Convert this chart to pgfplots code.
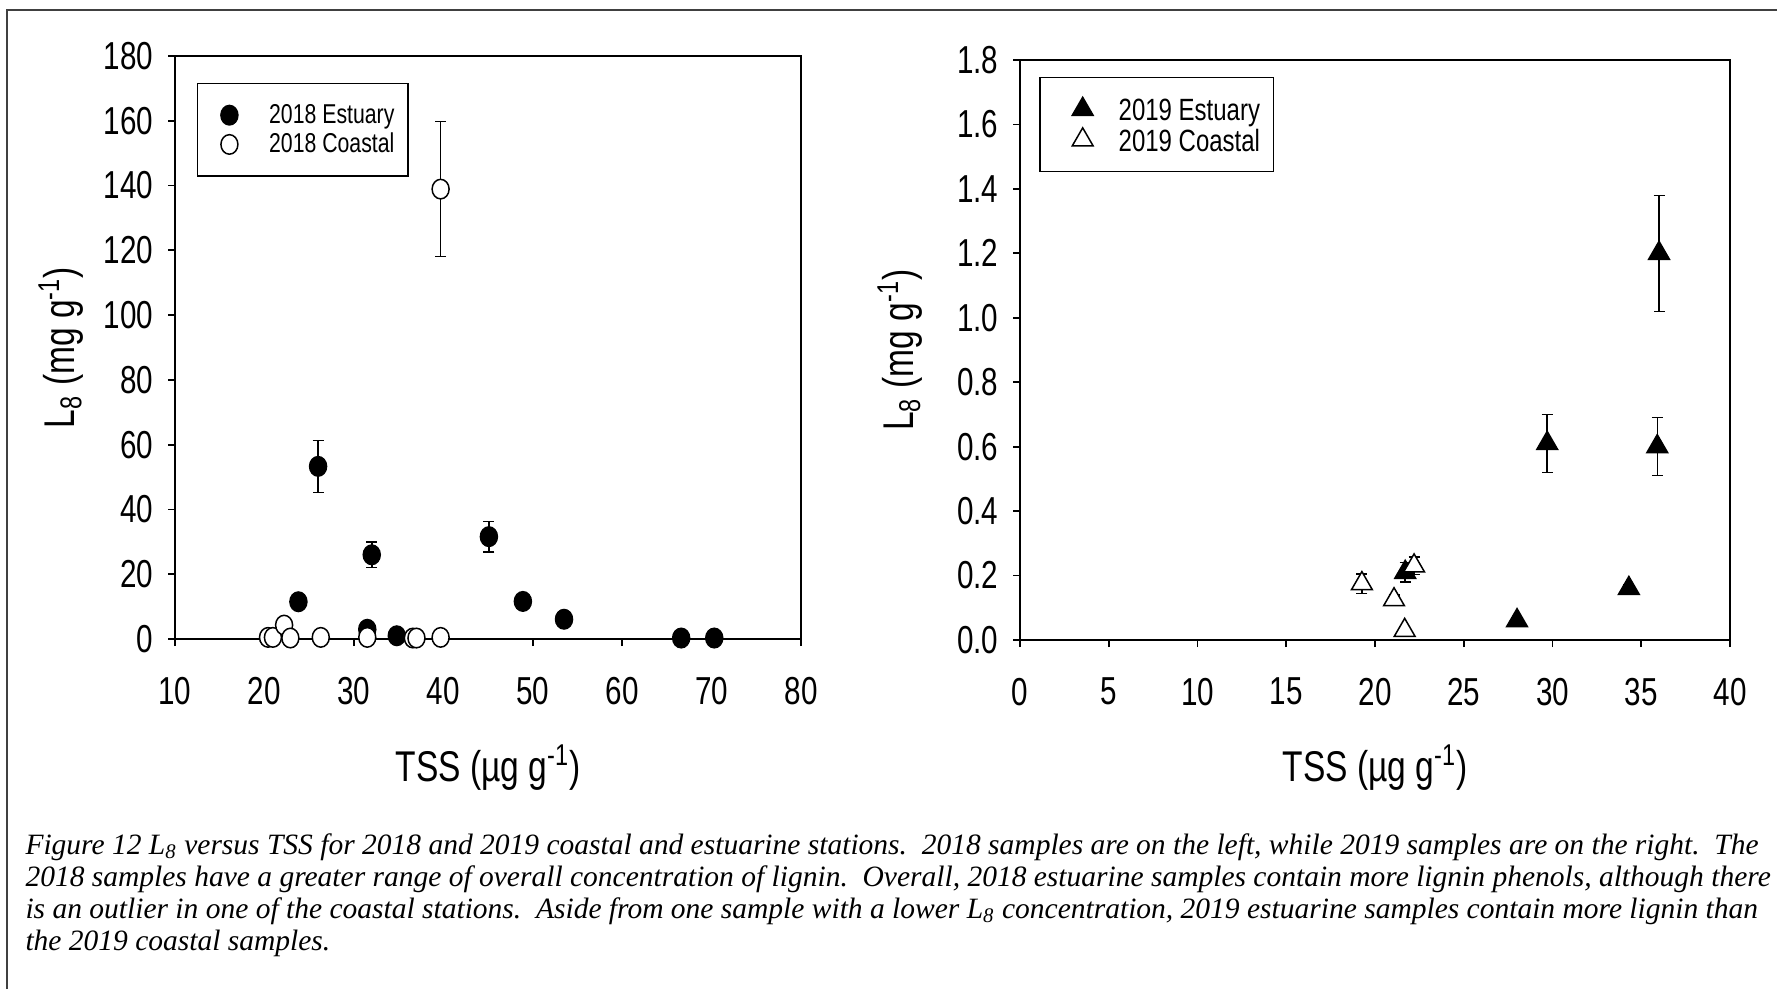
\documentclass[border=0pt]{standalone}
\usepackage{pgfplots}
\pgfplotsset{compat=1.18}
\usepackage{fontspec}
\setmainfont{Liberation Serif}
\newfontfamily\cf{Liberation Sans}[FakeStretch=0.78]
\newfontfamily\cft{Liberation Sans}[FakeStretch=0.76]
\newcommand\tickfont{\cft\fontsize{15.6}{18}\selectfont}
\newcommand\labfont{\cf\fontsize{17.2}{20}\selectfont}
\newcommand\legfont{\cf\fontsize{10.9}{13}\selectfont}
\newcommand\legfontb{\cf\fontsize{12.3}{14}\selectfont}
\newcommand\capfont{\fontsize{11.8}{12.7}\selectfont\itshape}

\pgfplotsset{
  panel/.style={
    scale only axis, clip=false,
    axis line style={line width=0.8pt},
    tick align=outside, tick pos=left,
    major tick length=2.8pt,
    every tick/.style={black, line width=0.7pt},
    tick label style={font=\tickfont},
    xticklabel style={yshift=-8.8pt},
    yticklabel style={xshift=-2.3pt},
    /pgf/number format/assume math mode=true,
    label style={font=\labfont},
    xlabel style={at={(axis description cs:0.5,-0.22)}, anchor=center},
    legend cell align=left,
    legend style={draw=black, line width=0.6pt, anchor=north west,
      inner xsep=5.4pt, row sep=0pt, /tikz/column sep=0pt,
      nodes={inner xsep=0pt}},
    error bars/error bar style={line width=0.6pt, black},
    error bars/error mark options={black, line width=0.6pt, mark size=2.2pt, rotate=90},
  }
}

\begin{document}
\begin{tikzpicture}[x=0.4pt, y=0.4pt]
\path[use as bounding box] (0,0) rectangle (1777,989);
\draw[line width=0.8pt, black!75] (7,0) -- (7,979) -- (1777,979);

% 2018
\begin{axis}[panel,
  at={(70pt,140pt)}, anchor=south west,
  width=250.4pt, height=233.2pt,
  xmin=10, xmax=80, ymin=0, ymax=180,
  xtick={10,20,...,80}, ytick={0,20,...,180},
  xlabel={TSS (µg g\textsuperscript{-1})},
  ylabel={L\textsubscript{8} (mg g\textsuperscript{-1})},
  ylabel style={at={(axis description cs:-0.182,0.5)}, anchor=center},
  legend style={at={(0.035,0.954)}, font=\legfont, inner ysep=6.8pt,
    nodes={inner ysep=0.7pt, text height=8.5pt, text depth=1.8pt}},
  legend image code/.code={\path (0pt,0pt) (22.6pt,0pt); \draw[#1, only marks] plot coordinates {(7pt,0pt)};},
]
\addplot[only marks, mark=*, mark size=3.4pt, mark options={yscale=1.15, fill=black, draw=black, line width=0.6pt},
  error bars/.cd, y dir=both, y explicit]
  coordinates {
  (26.0,53.3) +- (0,8.0)
  (23.8,11.5) +- (0,0)
  (32.0,26.0) +- (0,3.9)
  (31.5,3.0) +- (0,0)
  (34.8,1.0) +- (0,0)
  (45.1,31.6) +- (0,4.7)
  (48.9,11.6) +- (0,0)
  (53.5,6.1) +- (0,0)
  (66.6,0.3) +- (0,0)
  (70.3,0.3) +- (0,0)
  };
\addlegendentry{2018 Estuary}
\addplot[only marks, mark=*, mark size=3.4pt, mark options={yscale=1.15, fill=white, draw=black, line width=0.6pt},
  error bars/.cd, y dir=both, y explicit]
  coordinates {
  (39.7,138.9) +- (0,20.8)
  (20.4,0.5) +- (0,0)
  (20.95,0.5) +- (0,0)
  (22.2,4.3) +- (0,0)
  (22.9,0.3) +- (0,0)
  (26.3,0.5) +- (0,0)
  (31.5,0.5) +- (0,0)
  (36.6,0.3) +- (0,0)
  (37.0,0.3) +- (0,0)
  (39.7,0.5) +- (0,0)
  };
\addlegendentry{2018 Coastal}
\end{axis}

% 2019
\begin{axis}[panel,
  at={(408pt,139.6pt)}, anchor=south west,
  width=284pt, height=232pt,
  xmin=0, xmax=40, ymin=0, ymax=1.8,
  xtick={0,5,...,40}, ytick={0,0.2,...,1.8},
  yticklabel style={/pgf/number format/.cd, fixed, fixed zerofill, precision=1},
  xlabel={TSS (µg g\textsuperscript{-1})},
  ylabel={L\textsubscript{8} (mg g\textsuperscript{-1})},
  ylabel style={at={(axis description cs:-0.169,0.5)}, anchor=center},
  legend style={at={(0.027,0.971)}, font=\legfontb, inner ysep=6.6pt,
    nodes={inner ysep=0.3pt, text height=10.4pt, text depth=1.2pt}},
  legend image code/.code={\path (0pt,0pt) (25.5pt,0pt); \draw[#1, only marks] plot coordinates {(11.4pt,0pt)};},
]
\addplot[only marks, mark=triangle*, mark size=4.8pt, mark options={fill=black, draw=black, line width=0.6pt},
  error bars/.cd, y dir=both, y explicit]
  coordinates {
  (36.0,1.20) +- (0,0.18)
  (29.7,0.61) +- (0,0.09)
  (35.9,0.60) +- (0,0.09)
  (34.3,0.16) +- (0,0.012)
  (28.0,0.06) +- (0,0.01)
  (21.7,0.21) +- (0,0.03)
  };
\addlegendentry{2019 Estuary}
\addplot[only marks, mark=triangle*, mark size=4.8pt, mark options={fill=white, draw=black, line width=0.6pt},
  error bars/.cd, y dir=both, y explicit]
  coordinates {
  (19.26,0.175) +- (0,0.03)
  (21.07,0.125) +- (0,0.015)
  (21.67,0.03) +- (0,0)
  (22.2,0.23) +- (0,0.027)
  };
\addlegendentry{2019 Coastal}
\end{axis}

\node[anchor=base west, font=\capfont, inner sep=0pt] at (25,134.6) {Figure 12 L\textsubscript{8} versus TSS for 2018 and 2019 coastal and estuarine stations.\ \ 2018 samples are on the left, while 2019 samples are on the right.\ \ The};
\node[anchor=base west, font=\capfont, inner sep=0pt] at (25,102.6) {2018 samples have a greater range of overall concentration of lignin.\ \ Overall, 2018 estuarine samples contain more lignin phenols, although there};
\node[anchor=base west, font=\capfont, inner sep=0pt] at (25,70.6) {is an outlier in one of the coastal stations.\ \ Aside from one sample with a lower L\textsubscript{8} concentration, 2019 estuarine samples contain more lignin than};
\node[anchor=base west, font=\capfont, inner sep=0pt] at (25,38.6) {the 2019 coastal samples.};
\end{tikzpicture}
\end{document}
